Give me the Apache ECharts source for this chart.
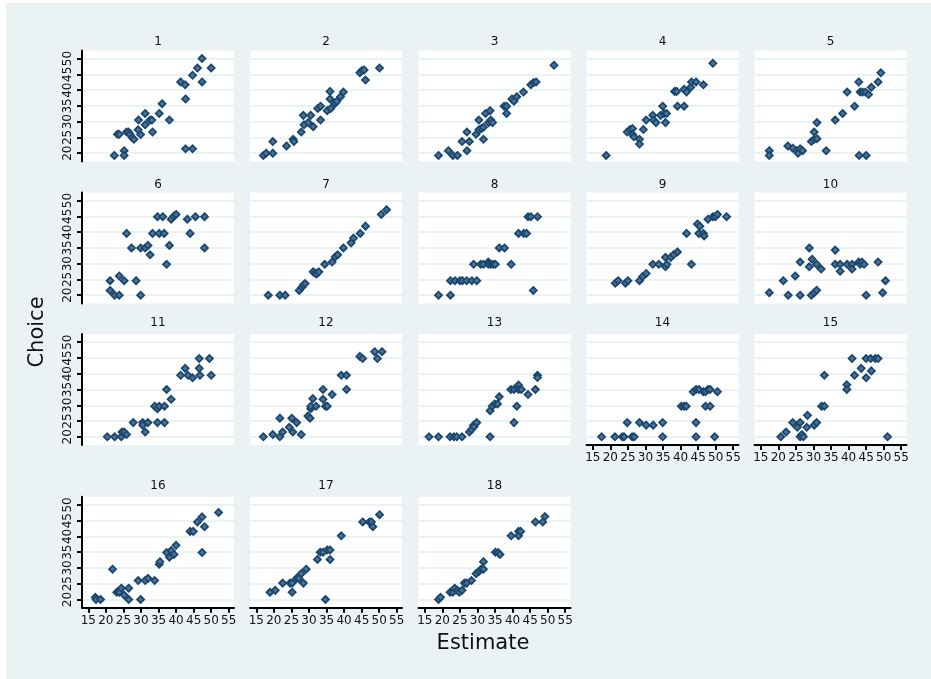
<!DOCTYPE html>
<html>
<head>
<meta charset="utf-8">
<script src="https://cdn.jsdelivr.net/npm/echarts@6/dist/echarts.min.js"></script>
<style>
  html, body { margin: 0; padding: 0; background: #ffffff; }
  #wrap { position: relative; width: 931px; height: 679px; overflow: hidden; }
  #plate { position: absolute; left: 6px; top: 3px; right: 0; bottom: 0; background: #eaf2f3; }
  #chart { position: absolute; left: 0; top: 0; width: 931px; height: 679px; }
</style>
</head>
<body>
<div id="wrap"><div id="plate"></div><div id="chart"></div></div>
<script>
// Panel labels (one small scatter per subject)
const categories = ['1','2','3','4','5','6','7','8','9','10','11','12','13','14','15','16','17','18'];

// Tick labels shared by every panel
const xTicks = [15, 20, 25, 30, 35, 40, 45, 50, 55];
const yTicks = [20, 25, 30, 35, 40, 45, 50];

// [Estimate, Choice] pairs for each panel
const p1 = [[22.4,19.3],[23.3,26.0],[23.8,26.0],[25.2,20.8],[25.2,19.3],[25.9,26.7],[26.5,26.7],[26.9,25.9],[27.5,25.0],[28.0,24.4],[29.2,27.4],[29.3,30.5],[29.9,25.9],[31.2,29.0],[31.2,32.6],[32.6,30.5],[33.1,30.5],[33.3,26.7],[35.2,32.6],[36.0,35.7],[38.1,30.5],[41.3,42.6],[42.6,41.7],[42.7,37.2],[42.7,21.4],[44.7,21.4],[44.7,44.7],[46.1,47.0],[47.4,50.0],[47.4,42.6],[50.0,47.0]];
const p2 = [[17.0,19.3],[17.8,20.0],[19.7,23.7],[19.7,20.0],[23.6,22.3],[25.5,24.4],[25.7,23.7],[27.8,26.7],[28.4,32.0],[28.6,29.0],[29.8,29.7],[30.5,32.0],[31.2,28.4],[32.5,34.2],[33.3,34.9],[33.3,30.5],[35.2,33.5],[36.0,39.6],[36.0,37.2],[36.2,34.2],[37.4,35.8],[37.9,36.4],[39.0,37.9],[39.8,39.4],[44.5,45.5],[45.1,46.2],[45.7,46.4],[46.1,43.2],[50.1,47.0]];
const p3 = [[18.9,19.3],[21.7,20.8],[23.0,19.3],[24.3,19.3],[27.0,20.8],[25.6,23.7],[27.7,23.7],[27.0,26.7],[29.6,26.0],[30.4,27.4],[31.1,27.8],[31.7,28.2],[31.7,24.4],[30.4,30.5],[32.3,32.6],[33.2,29.7],[33.6,33.5],[33.8,30.5],[34.3,29.7],[37.6,34.9],[38.3,34.9],[38.3,32.6],[39.8,37.2],[40.4,36.5],[41.2,37.9],[43.1,39.4],[45.2,41.7],[46.0,42.4],[46.7,42.6],[51.8,47.9]];
const p4 = [[18.8,19.3],[24.8,26.7],[25.6,27.5],[26.3,27.8],[26.3,26.0],[26.7,25.2],[28.3,24.4],[28.3,22.9],[29.4,27.5],[30.2,30.5],[32.1,32.0],[32.3,30.5],[33.0,29.7],[34.3,32.0],[34.9,34.9],[35.3,32.6],[35.7,29.7],[36.0,32.6],[38.3,39.6],[38.9,39.6],[39.1,34.9],[41.0,34.9],[41.0,40.3],[41.7,39.4],[42.9,40.9],[43.1,42.6],[44.4,42.6],[46.5,41.7],[49.2,48.5]];
const p5 = [[17.4,20.8],[17.4,19.3],[22.7,22.3],[24.1,21.6],[25.2,20.8],[25.6,20.0],[26.2,21.4],[26.9,20.8],[29.4,23.7],[30.2,26.7],[30.2,24.4],[31.0,24.6],[31.0,29.7],[33.6,20.8],[36.2,30.5],[38.3,32.6],[39.6,39.4],[41.7,34.9],[42.9,42.6],[43.0,19.3],[43.3,39.4],[44.0,39.4],[44.8,39.4],[45.0,19.3],[45.7,38.6],[46.5,40.9],[48.4,42.6],[49.2,45.5]];
const p6 = [[21.2,24.6],[21.2,21.5],[22.5,20.0],[23.8,20.0],[23.8,26.1],[25.2,24.6],[25.9,39.6],[27.3,35.0],[28.6,24.6],[29.9,20.0],[29.9,35.0],[31.2,35.0],[32.0,35.8],[32.6,32.8],[33.3,39.6],[34.7,44.9],[35.2,39.6],[36.2,44.9],[36.6,39.6],[37.3,29.8],[38.1,35.8],[38.6,44.1],[39.4,45.1],[40.0,45.6],[43.2,44.1],[44.0,39.6],[45.5,44.9],[48.1,44.9],[48.1,35.0]];
const p7 = [[18.4,20.0],[21.7,20.0],[23.2,20.0],[27.2,21.5],[28.0,22.5],[28.4,23.2],[28.9,23.7],[31.2,27.4],[31.8,27.0],[32.2,26.7],[32.8,27.4],[34.5,29.8],[36.6,30.5],[37.5,32.2],[38.2,32.8],[39.8,35.0],[42.0,36.6],[42.7,38.1],[44.6,39.6],[46.1,41.9],[50.6,45.6],[52.1,47.1]];
const p8 = [[18.9,20.0],[22.3,20.0],[22.3,24.6],[23.6,24.6],[25.0,24.6],[25.7,24.6],[26.9,24.6],[28.4,24.6],[29.8,24.6],[28.9,29.8],[30.9,29.8],[31.7,29.8],[33.1,30.5],[33.1,29.8],[33.8,29.8],[34.5,29.8],[35.1,29.8],[36.2,35.0],[37.7,35.0],[39.6,29.8],[41.7,39.6],[43.2,39.6],[44.0,39.6],[44.4,44.9],[45.2,44.9],[45.9,21.5],[47.1,44.9]];
const p9 = [[21.4,23.8],[22.2,24.6],[24.3,23.8],[25.0,24.6],[28.3,24.6],[29.2,25.9],[30.2,26.9],[32.1,29.8],[33.8,29.8],[35.7,32.0],[35.7,29.0],[36.1,29.8],[37.2,32.0],[38.0,32.8],[39.1,33.7],[41.7,39.6],[43.1,29.8],[44.8,42.6],[45.2,39.6],[45.5,41.9],[46.5,39.6],[46.7,38.8],[47.8,44.1],[49.2,44.9],[49.9,44.9],[50.5,45.6],[53.1,44.9]];
const p10 = [[17.4,20.8],[21.4,24.6],[22.8,20.0],[24.8,26.1],[26.2,30.5],[26.2,20.0],[28.8,35.0],[28.8,29.0],[29.4,20.0],[29.6,31.4],[30.2,20.8],[30.9,29.8],[30.9,21.6],[32.2,28.3],[36.2,34.3],[36.2,29.8],[37.6,29.8],[37.6,27.6],[39.6,29.8],[41.0,29.8],[41.0,28.3],[42.9,30.5],[43.3,29.8],[43.8,30.5],[44.4,29.8],[45.0,20.0],[48.4,30.5],[49.7,20.8],[50.5,24.6]];
const p11 = [[20.4,20.0],[22.5,20.0],[24.4,20.0],[24.6,21.5],[25.2,21.5],[25.9,20.7],[27.8,24.5],[30.5,24.5],[30.5,23.7],[31.2,21.5],[32.0,24.5],[33.9,29.7],[34.7,28.9],[34.7,24.5],[35.2,29.7],[36.7,29.7],[36.7,24.5],[37.3,35.0],[38.6,31.9],[41.3,39.5],[42.6,41.7],[43.4,39.5],[44.7,38.7],[46.6,44.8],[46.6,41.7],[46.8,39.5],[49.5,44.8],[50.0,39.5]];
const p12 = [[17.0,20.0],[19.7,20.7],[21.7,20.0],[21.7,25.9],[22.5,21.5],[24.4,23.0],[25.1,25.9],[25.4,21.5],[26.5,24.5],[27.8,20.7],[29.7,26.6],[30.3,25.9],[30.5,28.9],[30.5,29.7],[31.1,32.1],[32.0,29.7],[34.0,35.0],[34.0,31.9],[34.7,29.7],[35.2,29.7],[36.6,33.4],[39.2,39.5],[40.7,39.5],[40.7,35.0],[44.5,45.5],[45.3,44.8],[48.7,47.0],[49.5,44.8],[50.8,47.0]];
const p13 = [[16.2,20.0],[18.9,20.0],[22.2,20.0],[23.3,20.0],[24.1,20.0],[25.6,20.0],[27.7,21.5],[28.3,22.3],[28.9,23.7],[29.0,23.2],[29.8,24.5],[33.6,20.0],[33.6,28.3],[34.2,29.7],[34.9,30.4],[35.7,30.4],[36.2,32.7],[39.5,35.0],[40.4,35.0],[40.4,24.5],[41.2,29.7],[41.7,36.4],[41.7,35.0],[42.5,35.0],[44.4,33.4],[46.5,35.0],[47.1,39.5],[47.1,38.8]];
const p14 = [[17.5,20.0],[21.3,20.0],[23.4,20.0],[23.9,20.0],[24.8,24.5],[26.2,20.0],[26.8,20.0],[28.3,24.5],[30.2,23.7],[32.2,23.7],[34.9,24.5],[34.9,20.0],[40.2,29.7],[41.0,29.7],[41.6,29.7],[43.6,34.3],[44.4,35.0],[44.4,24.5],[44.4,20.0],[45.2,35.0],[46.5,34.3],[47.1,34.3],[47.1,29.7],[47.8,35.0],[48.4,35.0],[48.4,29.7],[49.7,20.0],[50.5,34.3]];
const p15 = [[20.7,20.0],[22.2,21.5],[24.1,24.5],[25.4,23.0],[26.2,24.5],[26.2,20.0],[26.7,20.7],[27.1,20.0],[28.1,23.0],[28.3,26.8],[30.2,23.7],[30.9,24.5],[32.3,29.7],[33.1,39.5],[33.1,29.7],[39.5,36.5],[39.5,35.0],[41.0,44.8],[41.7,39.5],[43.6,41.7],[45.0,44.8],[45.0,38.7],[46.3,44.8],[46.5,40.9],[47.6,44.8],[48.4,44.8],[51.1,20.0]];
const p16 = [[17.0,20.7],[17.2,20.0],[18.5,20.0],[21.9,29.6],[23.1,22.3],[23.8,22.3],[24.4,23.6],[25.2,21.4],[26.5,20.0],[26.5,23.6],[29.2,26.0],[29.9,20.0],[31.2,26.0],[32.0,26.7],[33.9,26.0],[35.2,31.2],[35.4,32.0],[37.3,34.9],[38.1,33.4],[38.6,35.5],[39.4,34.3],[40.0,37.2],[44.0,41.6],[44.9,41.6],[46.1,44.6],[47.4,46.2],[47.4,34.9],[48.1,43.1],[52.1,47.6]];
const p17 = [[18.9,22.3],[20.4,22.9],[22.5,25.2],[24.6,25.2],[25.2,25.2],[25.2,22.3],[26.5,26.7],[27.1,26.7],[27.8,28.2],[28.4,25.2],[29.2,29.6],[32.4,32.7],[33.2,35.0],[34.0,35.0],[34.7,20.0],[35.2,35.7],[36.0,35.7],[36.0,32.7],[39.2,40.2],[45.3,44.6],[47.2,44.6],[47.8,44.6],[48.2,43.1],[50.1,46.9]];
const p18 = [[18.9,20.0],[19.5,20.7],[22.2,22.3],[23.0,22.3],[23.5,23.6],[24.3,22.9],[24.8,22.3],[25.6,22.9],[26.3,25.2],[26.9,25.2],[28.3,26.0],[29.6,28.2],[30.4,28.9],[31.0,29.6],[31.7,32.0],[31.7,29.6],[35.1,35.0],[35.9,34.9],[36.4,34.3],[39.6,40.2],[41.7,41.6],[41.7,40.2],[42.3,41.6],[46.5,44.6],[48.6,44.6],[49.2,46.3]];

const panels = [p1,p2,p3,p4,p5,p6,p7,p8,p9,p10,p11,p12,p13,p14,p15,p16,p17,p18];

// Layout of the 5 x 4 small-multiple grid (pixels)
const colLeft = [82, 250, 418.5, 586.5, 754.5];
const rowTop = [50.4, 192.4, 334, 496.7];
const titleY = [42.3, 185, 323.3, 486];
const panelW = 152, panelH = 111;
const nCols = 5;
const xRange = [13.2, 56.5];
const yRange = [17.4, 52.6];

const FONT = 'DejaVu Sans';
const INK = '#111111';
const GRID_LINE = '#eaf2f3';
const MARK = '#1a476f';

// the last panel in each column carries the x axis
const lastInCol = new Array(nCols).fill(-1);
panels.forEach((_, i) => { lastInCol[i % nCols] = i; });

const grids = [], xAxes = [], yAxes = [], series = [], texts = [];

panels.forEach((pts, i) => {
  const c = i % nCols, r = Math.floor(i / nCols);
  const showX = lastInCol[c] === i;
  const showY = c === 0;
  grids.push({
    left: colLeft[c], top: rowTop[r], width: panelW, height: panelH,
    show: true, backgroundColor: '#ffffff', borderWidth: 0,
    containLabel: false, outerBoundsMode: 'none'
  });
  xAxes.push({
    type: 'value', gridIndex: i, min: xRange[0], max: xRange[1],
    axisLine: { show: showX, onZero: false, lineStyle: { color: '#000', width: 2 } },
    axisTick: { show: showX, customValues: xTicks, length: 5, lineStyle: { color: '#000', width: 2 } },
    axisLabel: { show: showX, customValues: xTicks, margin: 7, fontSize: 12, fontFamily: FONT, color: INK },
    splitLine: { show: false }
  });
  yAxes.push({
    type: 'value', gridIndex: i, min: yRange[0], max: yRange[1],
    axisLine: { show: showY, onZero: false, lineStyle: { color: '#000', width: 2 } },
    axisTick: { show: showY, customValues: yTicks, length: 5, lineStyle: { color: '#000', width: 2 } },
    axisLabel: { show: showY, customValues: yTicks, rotate: 90, margin: 8, fontSize: 12, fontFamily: FONT, color: INK },
    splitLine: { show: true, lineStyle: { color: GRID_LINE, width: 2 } }
  });
  series.push({
    type: 'scatter', name: categories[i], xAxisIndex: i, yAxisIndex: i,
    data: pts, symbol: 'diamond', symbolSize: 7,
    itemStyle: { color: '#4f7396', borderColor: MARK, borderWidth: 1.8, opacity: 1 }
  });
  texts.push({
    type: 'text', x: colLeft[c] + panelW / 2, y: titleY[r],
    style: { text: categories[i], textAlign: 'center', textVerticalAlign: 'middle',
             fontSize: 12, fontFamily: FONT, fill: INK }
  });
});

// shared axis titles
texts.push({
  type: 'text', x: 37.5, y: 332, rotation: Math.PI / 2,
  style: { text: 'Choice', textAlign: 'center', textVerticalAlign: 'middle', fontSize: 21, fontFamily: FONT, fill: INK }
});
texts.push({
  type: 'text', x: 483, y: 644,
  style: { text: 'Estimate', textAlign: 'center', textVerticalAlign: 'middle', fontSize: 21, fontFamily: FONT, fill: INK }
});

const chart = echarts.init(document.getElementById('chart'), null, { renderer: 'canvas' });
chart.setOption({
  animation: false,
  backgroundColor: 'transparent',
  grid: grids,
  xAxis: xAxes,
  yAxis: yAxes,
  series: series,
  graphic: texts
});
</script>
</body>
</html>
